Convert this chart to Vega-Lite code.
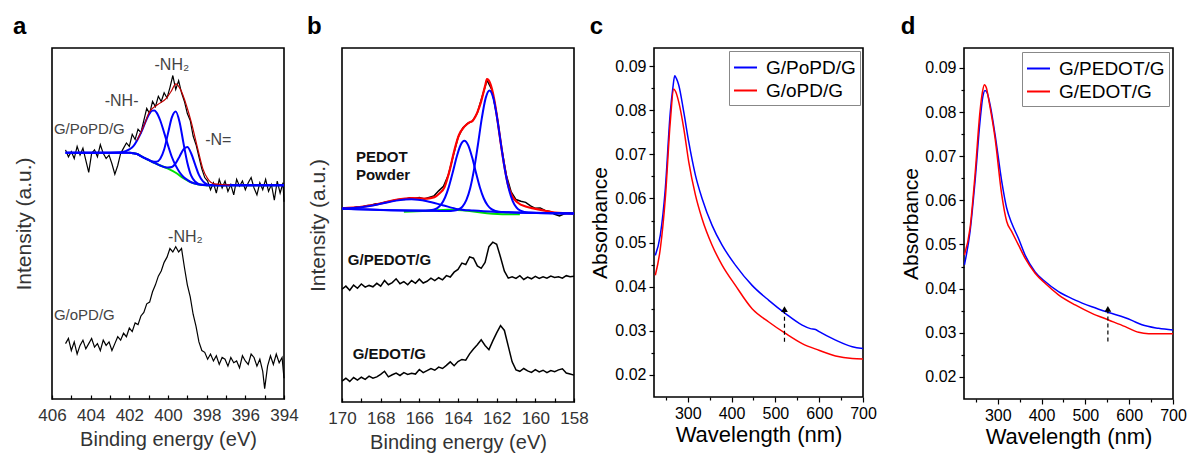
{
"$schema": "https://vega.github.io/schema/vega-lite/v6.json",
"background": "white",
"padding": {"left": 12, "top": 14, "right": 2, "bottom": 2},
"config": {
  "font": "Liberation Sans",
  "view": {"stroke": "#000", "strokeWidth": 1.6},
  "axis": {"grid": false, "domain": false, "labelFont": "Liberation Sans", "titleFont": "Liberation Sans", "titleFontWeight": "normal", "labelOverlap": false, "labelFlush": false},
  "title": {"font": "Liberation Sans"}
},
"resolve": {"scale": {"color": "independent"}, "legend": {"color": "independent"}},
"align": "none",
"datasets": {
  "aRaw": [
    {"s":"PoPD","x":405.3,"y":72},{"s":"PoPD","x":405.15,"y":70},{"s":"PoPD","x":405.0,"y":71.5},{"s":"PoPD","x":404.85,"y":69.5},{"s":"PoPD","x":404.7,"y":73},{"s":"PoPD","x":404.55,"y":70.5},{"s":"PoPD","x":404.4,"y":72.5},{"s":"PoPD","x":404.25,"y":69},{"s":"PoPD","x":404.1,"y":65.5},{"s":"PoPD","x":403.95,"y":71},{"s":"PoPD","x":403.8,"y":72},{"s":"PoPD","x":403.65,"y":70},{"s":"PoPD","x":403.5,"y":73.5},{"s":"PoPD","x":403.35,"y":71},{"s":"PoPD","x":403.2,"y":69.5},{"s":"PoPD","x":403.05,"y":70.5},{"s":"PoPD","x":402.9,"y":68},{"s":"PoPD","x":402.75,"y":65},{"s":"PoPD","x":402.6,"y":67.5},{"s":"PoPD","x":402.45,"y":71},{"s":"PoPD","x":402.3,"y":72.5},{"s":"PoPD","x":402.15,"y":74},{"s":"PoPD","x":402.0,"y":73},{"s":"PoPD","x":401.85,"y":76.5},{"s":"PoPD","x":401.7,"y":75},{"s":"PoPD","x":401.55,"y":78},{"s":"PoPD","x":401.4,"y":77},{"s":"PoPD","x":401.25,"y":80.5},{"s":"PoPD","x":401.1,"y":84},{"s":"PoPD","x":400.95,"y":82.5},{"s":"PoPD","x":400.8,"y":86},{"s":"PoPD","x":400.65,"y":84.5},{"s":"PoPD","x":400.5,"y":87.5},{"s":"PoPD","x":400.35,"y":86},{"s":"PoPD","x":400.2,"y":88.5},{"s":"PoPD","x":400.05,"y":87},{"s":"PoPD","x":399.9,"y":90},{"s":"PoPD","x":399.75,"y":93.5},{"s":"PoPD","x":399.6,"y":89.5},{"s":"PoPD","x":399.45,"y":92},{"s":"PoPD","x":399.3,"y":88.5},{"s":"PoPD","x":399.15,"y":86},{"s":"PoPD","x":399.0,"y":82.5},{"s":"PoPD","x":398.85,"y":80.5},{"s":"PoPD","x":398.7,"y":76},{"s":"PoPD","x":398.55,"y":73.5},{"s":"PoPD","x":398.4,"y":70},{"s":"PoPD","x":398.25,"y":66.5},{"s":"PoPD","x":398.1,"y":64},{"s":"PoPD","x":397.95,"y":63},{"s":"PoPD","x":397.8,"y":60.5},{"s":"PoPD","x":397.65,"y":62.5},{"s":"PoPD","x":397.5,"y":59.5},{"s":"PoPD","x":397.35,"y":63.5},{"s":"PoPD","x":397.2,"y":61},{"s":"PoPD","x":397.05,"y":63},{"s":"PoPD","x":396.9,"y":60},{"s":"PoPD","x":396.75,"y":62},{"s":"PoPD","x":396.6,"y":59},{"s":"PoPD","x":396.45,"y":63.5},{"s":"PoPD","x":396.3,"y":61.5},{"s":"PoPD","x":396.15,"y":63},{"s":"PoPD","x":396.0,"y":60.5},{"s":"PoPD","x":395.85,"y":62.5},{"s":"PoPD","x":395.7,"y":64},{"s":"PoPD","x":395.55,"y":61},{"s":"PoPD","x":395.4,"y":59},{"s":"PoPD","x":395.25,"y":62.5},{"s":"PoPD","x":395.1,"y":60.5},{"s":"PoPD","x":394.95,"y":63.5},{"s":"PoPD","x":394.8,"y":60},{"s":"PoPD","x":394.65,"y":62},{"s":"PoPD","x":394.5,"y":57.5},{"s":"PoPD","x":394.35,"y":63},{"s":"PoPD","x":394.2,"y":59.5},{"s":"PoPD","x":394.05,"y":62.5},{"s":"PoPD","x":394.0,"y":57},
    {"s":"oPD","x":405.3,"y":16},{"s":"oPD","x":405.15,"y":17.5},{"s":"oPD","x":405.0,"y":14},{"s":"oPD","x":404.85,"y":16.5},{"s":"oPD","x":404.7,"y":13},{"s":"oPD","x":404.55,"y":15.5},{"s":"oPD","x":404.4,"y":17},{"s":"oPD","x":404.25,"y":14.5},{"s":"oPD","x":404.1,"y":16},{"s":"oPD","x":403.95,"y":17.5},{"s":"oPD","x":403.8,"y":15},{"s":"oPD","x":403.65,"y":16},{"s":"oPD","x":403.5,"y":14},{"s":"oPD","x":403.35,"y":17},{"s":"oPD","x":403.2,"y":15.5},{"s":"oPD","x":403.05,"y":16.5},{"s":"oPD","x":402.9,"y":14},{"s":"oPD","x":402.75,"y":16},{"s":"oPD","x":402.6,"y":18},{"s":"oPD","x":402.45,"y":17},{"s":"oPD","x":402.3,"y":19},{"s":"oPD","x":402.15,"y":18},{"s":"oPD","x":402.0,"y":20.5},{"s":"oPD","x":401.85,"y":19.5},{"s":"oPD","x":401.7,"y":22},{"s":"oPD","x":401.55,"y":21.5},{"s":"oPD","x":401.4,"y":24},{"s":"oPD","x":401.25,"y":25},{"s":"oPD","x":401.1,"y":27.5},{"s":"oPD","x":400.95,"y":28},{"s":"oPD","x":400.8,"y":31},{"s":"oPD","x":400.65,"y":33},{"s":"oPD","x":400.5,"y":35.5},{"s":"oPD","x":400.35,"y":37},{"s":"oPD","x":400.2,"y":39.5},{"s":"oPD","x":400.05,"y":41},{"s":"oPD","x":399.9,"y":43.5},{"s":"oPD","x":399.75,"y":42.5},{"s":"oPD","x":399.6,"y":44},{"s":"oPD","x":399.45,"y":42.5},{"s":"oPD","x":399.3,"y":43.5},{"s":"oPD","x":399.15,"y":38},{"s":"oPD","x":399.0,"y":33},{"s":"oPD","x":398.85,"y":29.5},{"s":"oPD","x":398.7,"y":24.5},{"s":"oPD","x":398.55,"y":21},{"s":"oPD","x":398.4,"y":16.5},{"s":"oPD","x":398.25,"y":14},{"s":"oPD","x":398.1,"y":13.5},{"s":"oPD","x":397.95,"y":11.5},{"s":"oPD","x":397.8,"y":13},{"s":"oPD","x":397.65,"y":11},{"s":"oPD","x":397.5,"y":12.5},{"s":"oPD","x":397.35,"y":10},{"s":"oPD","x":397.2,"y":12},{"s":"oPD","x":397.05,"y":11.5},{"s":"oPD","x":396.9,"y":9.5},{"s":"oPD","x":396.75,"y":12},{"s":"oPD","x":396.6,"y":10.5},{"s":"oPD","x":396.45,"y":11},{"s":"oPD","x":396.3,"y":9},{"s":"oPD","x":396.15,"y":12.5},{"s":"oPD","x":396.0,"y":11},{"s":"oPD","x":395.85,"y":10},{"s":"oPD","x":395.7,"y":13},{"s":"oPD","x":395.55,"y":12},{"s":"oPD","x":395.4,"y":9.5},{"s":"oPD","x":395.25,"y":11.5},{"s":"oPD","x":395.1,"y":8},{"s":"oPD","x":395.0,"y":3},{"s":"oPD","x":394.85,"y":9.5},{"s":"oPD","x":394.7,"y":12.5},{"s":"oPD","x":394.55,"y":10},{"s":"oPD","x":394.4,"y":13},{"s":"oPD","x":394.25,"y":10.5},{"s":"oPD","x":394.1,"y":12},{"s":"oPD","x":394.0,"y":6}
  ],
  "aFit": [
    {"s":"P1","x":405.3,"y":71.2},{"s":"P1","x":403.0,"y":71.2},{"s":"P1","x":402.4,"y":71.33},{"s":"P1","x":402.0,"y":72.13},{"s":"P1","x":401.8,"y":73.04},{"s":"P1","x":401.6,"y":74.75},{"s":"P1","x":401.4,"y":76.92},{"s":"P1","x":401.2,"y":79.59},{"s":"P1","x":401.0,"y":82.1},{"s":"P1","x":400.8,"y":83.35},{"s":"P1","x":400.7,"y":83.4},{"s":"P1","x":400.6,"y":82.85},{"s":"P1","x":400.4,"y":80.5},{"s":"P1","x":400.2,"y":76.99},{"s":"P1","x":400.0,"y":73.32},{"s":"P1","x":399.8,"y":69.95},{"s":"P1","x":399.6,"y":67.44},{"s":"P1","x":399.4,"y":65.53},{"s":"P1","x":399.2,"y":64.17},{"s":"P1","x":399.0,"y":63.33},{"s":"P1","x":398.8,"y":62.64},{"s":"P1","x":398.6,"y":62.3},{"s":"P1","x":398.4,"y":62.0},{"s":"P1","x":398.0,"y":61.8},{"s":"P1","x":394.0,"y":61.8},
    {"s":"P2","x":405.3,"y":71.2},{"s":"P2","x":402.0,"y":71.2},{"s":"P2","x":401.8,"y":71.0},{"s":"P2","x":401.6,"y":70.8},{"s":"P2","x":401.4,"y":70.2},{"s":"P2","x":401.2,"y":69.6},{"s":"P2","x":401.0,"y":69.12},{"s":"P2","x":400.8,"y":68.62},{"s":"P2","x":400.6,"y":68.56},{"s":"P2","x":400.4,"y":69.43},{"s":"P2","x":400.2,"y":72.09},{"s":"P2","x":400.0,"y":76.77},{"s":"P2","x":399.8,"y":81.41},{"s":"P2","x":399.6,"y":83.1},{"s":"P2","x":399.4,"y":80.01},{"s":"P2","x":399.2,"y":73.97},{"s":"P2","x":399.0,"y":68.29},{"s":"P2","x":398.8,"y":64.53},{"s":"P2","x":398.6,"y":62.86},{"s":"P2","x":398.4,"y":62.12},{"s":"P2","x":398.2,"y":61.92},{"s":"P2","x":398.0,"y":61.8},{"s":"P2","x":394.0,"y":61.8},
    {"s":"P3","x":405.3,"y":71.2},{"s":"P3","x":402.0,"y":71.2},{"s":"P3","x":401.8,"y":71.0},{"s":"P3","x":401.6,"y":70.8},{"s":"P3","x":401.4,"y":70.2},{"s":"P3","x":401.2,"y":69.6},{"s":"P3","x":401.0,"y":69.1},{"s":"P3","x":400.8,"y":68.5},{"s":"P3","x":400.6,"y":68.0},{"s":"P3","x":400.4,"y":67.5},{"s":"P3","x":400.2,"y":67.07},{"s":"P3","x":400.0,"y":66.9},{"s":"P3","x":399.8,"y":67.05},{"s":"P3","x":399.6,"y":68.16},{"s":"P3","x":399.4,"y":70.12},{"s":"P3","x":399.2,"y":72.16},{"s":"P3","x":399.0,"y":72.8},{"s":"P3","x":398.8,"y":70.96},{"s":"P3","x":398.6,"y":67.82},{"s":"P3","x":398.4,"y":64.76},{"s":"P3","x":398.2,"y":62.95},{"s":"P3","x":398.0,"y":62.1},{"s":"P3","x":397.8,"y":61.87},{"s":"P3","x":397.6,"y":61.8},{"s":"P3","x":394.0,"y":61.8},
    {"s":"bg","x":402.0,"y":71.2},{"s":"bg","x":401.6,"y":70.8},{"s":"bg","x":401.2,"y":69.6},{"s":"bg","x":400.8,"y":68.5},{"s":"bg","x":400.4,"y":67.5},{"s":"bg","x":400.0,"y":66.6},{"s":"bg","x":399.6,"y":65.4},{"s":"bg","x":399.2,"y":63.8},{"s":"bg","x":398.8,"y":62.6},{"s":"bg","x":398.4,"y":62.0},{"s":"bg","x":398.0,"y":61.8},{"s":"bg","x":394.2,"y":61.8},
    {"s":"env","x":401.6,"y":74.75},{"s":"env","x":401.2,"y":79.6},{"s":"env","x":400.97,"y":82.9},{"s":"env","x":400.53,"y":85.1},{"s":"env","x":400.1,"y":86.8},{"s":"env","x":399.85,"y":88.8},{"s":"env","x":399.59,"y":91.1},{"s":"env","x":399.33,"y":89.2},{"s":"env","x":399.05,"y":84.9},{"s":"env","x":398.8,"y":80.1},{"s":"env","x":398.46,"y":72.3},{"s":"env","x":398.2,"y":66.6},{"s":"env","x":397.95,"y":63.7},{"s":"env","x":397.6,"y":62.2},{"s":"env","x":397.2,"y":62.0},{"s":"env","x":396.8,"y":61.9}
  ],
  "aTextC": [
    {"x":402.4,"y":86,"t":"-NH-"},{"x":399.8,"y":96.5,"t":"-NH₂"},{"x":397.4,"y":74.8,"t":"-N="},{"x":399.1,"y":46.8,"t":"-NH₂"}
  ],
  "aTextL": [
    {"x":405.9,"y":78,"t":"G/PoPD/G"},{"x":405.9,"y":24.2,"t":"G/oPD/G"}
  ],
  "bRaw": [
    {"s":"PEDOT","x":170,"y":55.3},{"s":"PEDOT","x":169.75,"y":55.6},{"s":"PEDOT","x":169.5,"y":55.5},{"s":"PEDOT","x":169.25,"y":55.9},{"s":"PEDOT","x":169,"y":55.8},{"s":"PEDOT","x":168.75,"y":56.2},{"s":"PEDOT","x":168.5,"y":56.4},{"s":"PEDOT","x":168.25,"y":56.8},{"s":"PEDOT","x":168,"y":56.9},{"s":"PEDOT","x":167.75,"y":57.3},{"s":"PEDOT","x":167.5,"y":57.5},{"s":"PEDOT","x":167.25,"y":57.9},{"s":"PEDOT","x":167,"y":58.1},{"s":"PEDOT","x":166.75,"y":58.0},{"s":"PEDOT","x":166.5,"y":58.5},{"s":"PEDOT","x":166.25,"y":58.3},{"s":"PEDOT","x":166,"y":58.6},{"s":"PEDOT","x":165.75,"y":58.2},{"s":"PEDOT","x":165.5,"y":58.6},{"s":"PEDOT","x":165.25,"y":59.0},{"s":"PEDOT","x":165,"y":60.5},{"s":"PEDOT","x":164.75,"y":61.8},{"s":"PEDOT","x":164.5,"y":65.0},{"s":"PEDOT","x":164.25,"y":70.5},{"s":"PEDOT","x":164,"y":75.8},{"s":"PEDOT","x":163.75,"y":78.5},{"s":"PEDOT","x":163.5,"y":79.8},{"s":"PEDOT","x":163.25,"y":80.5},{"s":"PEDOT","x":163,"y":82.8},{"s":"PEDOT","x":162.75,"y":87.5},{"s":"PEDOT","x":162.5,"y":92.2},{"s":"PEDOT","x":162.25,"y":89.5},{"s":"PEDOT","x":162,"y":82.5},{"s":"PEDOT","x":161.75,"y":72.8},{"s":"PEDOT","x":161.5,"y":65.0},{"s":"PEDOT","x":161.25,"y":60.2},{"s":"PEDOT","x":161,"y":58.0},{"s":"PEDOT","x":160.75,"y":57.5},{"s":"PEDOT","x":160.5,"y":57.2},{"s":"PEDOT","x":160.25,"y":56.2},{"s":"PEDOT","x":160,"y":55.5},{"s":"PEDOT","x":159.75,"y":55.6},{"s":"PEDOT","x":159.5,"y":54.9},{"s":"PEDOT","x":159.25,"y":54.6},{"s":"PEDOT","x":159,"y":53.8},{"s":"PEDOT","x":158.75,"y":53.3},{"s":"PEDOT","x":158.5,"y":53.9},{"s":"PEDOT","x":158.25,"y":54.2},{"s":"PEDOT","x":158,"y":54.0},
    {"s":"GPG","x":170,"y":32.3},{"s":"GPG","x":169.8,"y":33.2},{"s":"GPG","x":169.6,"y":32.0},{"s":"GPG","x":169.4,"y":33.5},{"s":"GPG","x":169.2,"y":32.6},{"s":"GPG","x":169.0,"y":33.8},{"s":"GPG","x":168.8,"y":32.9},{"s":"GPG","x":168.6,"y":33.4},{"s":"GPG","x":168.4,"y":33.0},{"s":"GPG","x":168.2,"y":34.0},{"s":"GPG","x":168.0,"y":33.2},{"s":"GPG","x":167.8,"y":34.8},{"s":"GPG","x":167.6,"y":33.6},{"s":"GPG","x":167.4,"y":34.2},{"s":"GPG","x":167.2,"y":35.3},{"s":"GPG","x":167.0,"y":33.9},{"s":"GPG","x":166.8,"y":34.5},{"s":"GPG","x":166.6,"y":33.6},{"s":"GPG","x":166.4,"y":34.8},{"s":"GPG","x":166.2,"y":34.0},{"s":"GPG","x":166.0,"y":35.2},{"s":"GPG","x":165.8,"y":34.1},{"s":"GPG","x":165.6,"y":34.6},{"s":"GPG","x":165.4,"y":35.5},{"s":"GPG","x":165.2,"y":34.8},{"s":"GPG","x":165.0,"y":35.6},{"s":"GPG","x":164.8,"y":35.0},{"s":"GPG","x":164.6,"y":36.2},{"s":"GPG","x":164.4,"y":35.8},{"s":"GPG","x":164.2,"y":37.2},{"s":"GPG","x":164.0,"y":38.0},{"s":"GPG","x":163.8,"y":39.8},{"s":"GPG","x":163.6,"y":39.4},{"s":"GPG","x":163.4,"y":41.6},{"s":"GPG","x":163.2,"y":41.2},{"s":"GPG","x":163.0,"y":39.0},{"s":"GPG","x":162.8,"y":38.3},{"s":"GPG","x":162.6,"y":40.0},{"s":"GPG","x":162.4,"y":44.5},{"s":"GPG","x":162.2,"y":45.8},{"s":"GPG","x":162.0,"y":45.2},{"s":"GPG","x":161.8,"y":41.5},{"s":"GPG","x":161.6,"y":37.5},{"s":"GPG","x":161.4,"y":35.5},{"s":"GPG","x":161.2,"y":35.9},{"s":"GPG","x":161.0,"y":35.4},{"s":"GPG","x":160.8,"y":36.2},{"s":"GPG","x":160.6,"y":35.1},{"s":"GPG","x":160.4,"y":35.8},{"s":"GPG","x":160.2,"y":35.3},{"s":"GPG","x":160.0,"y":36.0},{"s":"GPG","x":159.8,"y":35.4},{"s":"GPG","x":159.6,"y":35.9},{"s":"GPG","x":159.4,"y":35.5},{"s":"GPG","x":159.2,"y":36.1},{"s":"GPG","x":159.0,"y":35.7},{"s":"GPG","x":158.8,"y":35.9},{"s":"GPG","x":158.6,"y":35.5},{"s":"GPG","x":158.4,"y":36.2},{"s":"GPG","x":158.2,"y":35.9},{"s":"GPG","x":158.0,"y":36.0},
    {"s":"GEG","x":170,"y":6.0},{"s":"GEG","x":169.8,"y":6.8},{"s":"GEG","x":169.6,"y":5.9},{"s":"GEG","x":169.4,"y":7.0},{"s":"GEG","x":169.2,"y":6.3},{"s":"GEG","x":169.0,"y":7.1},{"s":"GEG","x":168.8,"y":6.5},{"s":"GEG","x":168.6,"y":7.4},{"s":"GEG","x":168.4,"y":6.8},{"s":"GEG","x":168.2,"y":7.2},{"s":"GEG","x":168.0,"y":7.9},{"s":"GEG","x":167.8,"y":8.8},{"s":"GEG","x":167.6,"y":7.2},{"s":"GEG","x":167.4,"y":7.8},{"s":"GEG","x":167.2,"y":8.3},{"s":"GEG","x":167.0,"y":7.6},{"s":"GEG","x":166.8,"y":8.4},{"s":"GEG","x":166.6,"y":7.9},{"s":"GEG","x":166.4,"y":8.2},{"s":"GEG","x":166.2,"y":8.0},{"s":"GEG","x":166.0,"y":9.3},{"s":"GEG","x":165.8,"y":8.4},{"s":"GEG","x":165.6,"y":9.0},{"s":"GEG","x":165.4,"y":9.6},{"s":"GEG","x":165.2,"y":9.1},{"s":"GEG","x":165.0,"y":10.0},{"s":"GEG","x":164.8,"y":9.6},{"s":"GEG","x":164.6,"y":10.5},{"s":"GEG","x":164.4,"y":11.5},{"s":"GEG","x":164.2,"y":10.4},{"s":"GEG","x":164.0,"y":11.6},{"s":"GEG","x":163.8,"y":12.2},{"s":"GEG","x":163.6,"y":12.0},{"s":"GEG","x":163.4,"y":13.8},{"s":"GEG","x":163.2,"y":15.2},{"s":"GEG","x":163.0,"y":16.4},{"s":"GEG","x":162.8,"y":17.8},{"s":"GEG","x":162.6,"y":16.2},{"s":"GEG","x":162.4,"y":15.0},{"s":"GEG","x":162.2,"y":17.5},{"s":"GEG","x":162.0,"y":19.8},{"s":"GEG","x":161.8,"y":21.9},{"s":"GEG","x":161.6,"y":20.5},{"s":"GEG","x":161.4,"y":16.0},{"s":"GEG","x":161.2,"y":11.5},{"s":"GEG","x":161.0,"y":9.2},{"s":"GEG","x":160.8,"y":8.8},{"s":"GEG","x":160.6,"y":9.6},{"s":"GEG","x":160.4,"y":8.9},{"s":"GEG","x":160.2,"y":8.5},{"s":"GEG","x":160.0,"y":9.3},{"s":"GEG","x":159.8,"y":8.6},{"s":"GEG","x":159.6,"y":9.1},{"s":"GEG","x":159.4,"y":8.4},{"s":"GEG","x":159.2,"y":9.0},{"s":"GEG","x":159.0,"y":8.7},{"s":"GEG","x":158.8,"y":9.2},{"s":"GEG","x":158.6,"y":9.5},{"s":"GEG","x":158.4,"y":8.3},{"s":"GEG","x":158.2,"y":8.0},{"s":"GEG","x":158.0,"y":7.7}
  ],
  "bFit": [
    {"s":"C1","x":170,"y":55.51},{"s":"C1","x":169,"y":55.83},{"s":"C1","x":168,"y":56.78},{"s":"C1","x":167.2,"y":57.7},{"s":"C1","x":166.4,"y":58.08},{"s":"C1","x":165.6,"y":57.52},{"s":"C1","x":164.8,"y":56.4},{"s":"C1","x":164.0,"y":55.25},{"s":"C1","x":163.2,"y":54.84},{"s":"C1","x":162.0,"y":54.47},{"s":"C1","x":158.0,"y":54.0},
    {"s":"C2","x":170,"y":55.4},{"s":"C2","x":165.67,"y":54.87},{"s":"C2","x":165.47,"y":54.91},{"s":"C2","x":165.27,"y":55.09},{"s":"C2","x":165.07,"y":55.57},{"s":"C2","x":164.87,"y":56.62},{"s":"C2","x":164.67,"y":58.59},{"s":"C2","x":164.47,"y":61.72},{"s":"C2","x":164.27,"y":65.82},{"s":"C2","x":164.07,"y":70.19},{"s":"C2","x":163.87,"y":73.57},{"s":"C2","x":163.67,"y":74.84},{"s":"C2","x":163.47,"y":73.52},{"s":"C2","x":163.27,"y":70.1},{"s":"C2","x":163.07,"y":65.7},{"s":"C2","x":162.87,"y":61.55},{"s":"C2","x":162.67,"y":58.38},{"s":"C2","x":162.47,"y":56.37},{"s":"C2","x":162.27,"y":55.26},{"s":"C2","x":162.07,"y":54.74},{"s":"C2","x":161.87,"y":54.52},{"s":"C2","x":161.67,"y":54.43},{"s":"C2","x":158,"y":54.0},
    {"s":"C3","x":170,"y":55.4},{"s":"C3","x":164.37,"y":54.75},{"s":"C3","x":164.17,"y":54.84},{"s":"C3","x":163.97,"y":55.17},{"s":"C3","x":163.77,"y":56.0},{"s":"C3","x":163.57,"y":57.83},{"s":"C3","x":163.37,"y":61.24},{"s":"C3","x":163.17,"y":66.65},{"s":"C3","x":162.97,"y":73.71},{"s":"C3","x":162.77,"y":81.25},{"s":"C3","x":162.57,"y":87.07},{"s":"C3","x":162.37,"y":89.28},{"s":"C3","x":162.17,"y":87.02},{"s":"C3","x":161.97,"y":81.16},{"s":"C3","x":161.77,"y":73.58},{"s":"C3","x":161.57,"y":66.46},{"s":"C3","x":161.37,"y":61.01},{"s":"C3","x":161.17,"y":57.56},{"s":"C3","x":160.97,"y":55.67},{"s":"C3","x":160.77,"y":54.8},{"s":"C3","x":160.57,"y":54.43},{"s":"C3","x":160.37,"y":54.29},{"s":"C3","x":158,"y":54.0},
    {"s":"bg","x":166.8,"y":54.5},{"s":"bg","x":165.5,"y":54.8},{"s":"bg","x":164.5,"y":55.1},{"s":"bg","x":163.5,"y":54.8},{"s":"bg","x":162.5,"y":54.1},{"s":"bg","x":161.5,"y":53.8},{"s":"bg","x":160.8,"y":53.8},
    {"s":"env","x":170,"y":55.5},{"s":"env","x":169,"y":55.9},{"s":"env","x":168,"y":56.9},{"s":"env","x":167.2,"y":57.9},{"s":"env","x":166.4,"y":58.4},{"s":"env","x":165.6,"y":58.3},{"s":"env","x":165.22,"y":58.7},{"s":"env","x":164.95,"y":59.8},{"s":"env","x":164.7,"y":61.5},{"s":"env","x":164.45,"y":66},{"s":"env","x":164.18,"y":72.3},{"s":"env","x":163.95,"y":76.5},{"s":"env","x":163.67,"y":78.9},{"s":"env","x":163.45,"y":80},{"s":"env","x":163.24,"y":80.6},{"s":"env","x":163.0,"y":83},{"s":"env","x":162.81,"y":86},{"s":"env","x":162.6,"y":90.5},{"s":"env","x":162.5,"y":92.5},{"s":"env","x":162.35,"y":91.5},{"s":"env","x":162.12,"y":86.5},{"s":"env","x":161.95,"y":80.5},{"s":"env","x":161.77,"y":73.5},{"s":"env","x":161.6,"y":67.5},{"s":"env","x":161.43,"y":62.6},{"s":"env","x":161.2,"y":59},{"s":"env","x":160.9,"y":57.1},{"s":"env","x":160.5,"y":56},{"s":"env","x":160.05,"y":55.4},{"s":"env","x":159.5,"y":54.8},{"s":"env","x":159.0,"y":54.3},{"s":"env","x":158.5,"y":54.1},{"s":"env","x":158.0,"y":54}
  ],
  "bText": [
    {"x":169.28,"y":70.2,"t":"PEDOT"},{"x":169.28,"y":65.1,"t":"Powder"},{"x":169.7,"y":40.6,"t":"G/PEDOT/G"},{"x":169.45,"y":13.8,"t":"G/EDOT/G"}
  ],
  "cData": [
    {"s":"G/PoPD/G","x":226,"y":0.0471},{"s":"G/PoPD/G","x":237.4,"y":0.0517},{"s":"G/PoPD/G","x":248.8,"y":0.0622},{"s":"G/PoPD/G","x":260.2,"y":0.0796},{"s":"G/PoPD/G","x":266,"y":0.085},{"s":"G/PoPD/G","x":270.3,"y":0.0878},{"s":"G/PoPD/G","x":274,"y":0.0872},{"s":"G/PoPD/G","x":279.4,"y":0.0857},{"s":"G/PoPD/G","x":290.9,"y":0.0796},{"s":"G/PoPD/G","x":302.3,"y":0.0728},{"s":"G/PoPD/G","x":317.5,"y":0.0653},{"s":"G/PoPD/G","x":332.7,"y":0.06},{"s":"G/PoPD/G","x":355.6,"y":0.0539},{"s":"G/PoPD/G","x":378.4,"y":0.0494},{"s":"G/PoPD/G","x":408.8,"y":0.0449},{"s":"G/PoPD/G","x":446.9,"y":0.0403},{"s":"G/PoPD/G","x":485,"y":0.0369},{"s":"G/PoPD/G","x":523.1,"y":0.0339},{"s":"G/PoPD/G","x":561.2,"y":0.0313},{"s":"G/PoPD/G","x":580,"y":0.0305},{"s":"G/PoPD/G","x":591.7,"y":0.0303},{"s":"G/PoPD/G","x":600,"y":0.0298},{"s":"G/PoPD/G","x":637.4,"y":0.0279},{"s":"G/PoPD/G","x":675.5,"y":0.0264},{"s":"G/PoPD/G","x":700,"y":0.026},
    {"s":"G/oPD/G","x":226,"y":0.0426},{"s":"G/oPD/G","x":237.4,"y":0.0486},{"s":"G/oPD/G","x":248.8,"y":0.06},{"s":"G/oPD/G","x":260.2,"y":0.0774},{"s":"G/oPD/G","x":268,"y":0.0848},{"s":"G/oPD/G","x":272,"y":0.0843},{"s":"G/oPD/G","x":279.4,"y":0.0819},{"s":"G/oPD/G","x":290.9,"y":0.0759},{"s":"G/oPD/G","x":302.3,"y":0.0683},{"s":"G/oPD/G","x":317.5,"y":0.0608},{"s":"G/oPD/G","x":332.7,"y":0.0554},{"s":"G/oPD/G","x":355.6,"y":0.0494},{"s":"G/oPD/G","x":378.4,"y":0.0449},{"s":"G/oPD/G","x":408.8,"y":0.0403},{"s":"G/oPD/G","x":446.9,"y":0.035},{"s":"G/oPD/G","x":485,"y":0.032},{"s":"G/oPD/G","x":523.1,"y":0.0294},{"s":"G/oPD/G","x":561.2,"y":0.0271},{"s":"G/oPD/G","x":599.3,"y":0.0256},{"s":"G/oPD/G","x":637.4,"y":0.0243},{"s":"G/oPD/G","x":675.5,"y":0.0237},{"s":"G/oPD/G","x":700,"y":0.0236}
  ],
  "dData": [
    {"s":"G/PEDOT/G","x":224,"y":0.0454},{"s":"G/PEDOT/G","x":236.8,"y":0.0529},{"s":"G/PEDOT/G","x":248.2,"y":0.0643},{"s":"G/PEDOT/G","x":259.6,"y":0.0779},{"s":"G/PEDOT/G","x":266,"y":0.0835},{"s":"G/PEDOT/G","x":271,"y":0.0849},{"s":"G/PEDOT/G","x":276,"y":0.0843},{"s":"G/PEDOT/G","x":282.4,"y":0.0817},{"s":"G/PEDOT/G","x":293.9,"y":0.0749},{"s":"G/PEDOT/G","x":309.1,"y":0.0643},{"s":"G/PEDOT/G","x":320.5,"y":0.0582},{"s":"G/PEDOT/G","x":332,"y":0.0548},{"s":"G/PEDOT/G","x":347.2,"y":0.0514},{"s":"G/PEDOT/G","x":362.4,"y":0.0476},{"s":"G/PEDOT/G","x":385.3,"y":0.0438},{"s":"G/PEDOT/G","x":408.1,"y":0.0416},{"s":"G/PEDOT/G","x":438.7,"y":0.0393},{"s":"G/PEDOT/G","x":476.8,"y":0.0374},{"s":"G/PEDOT/G","x":514.9,"y":0.0359},{"s":"G/PEDOT/G","x":553,"y":0.0346},{"s":"G/PEDOT/G","x":591,"y":0.0334},{"s":"G/PEDOT/G","x":606,"y":0.0328},{"s":"G/PEDOT/G","x":629.1,"y":0.0318},{"s":"G/PEDOT/G","x":667.2,"y":0.031},{"s":"G/PEDOT/G","x":700,"y":0.0306},
    {"s":"G/EDOT/G","x":224,"y":0.0476},{"s":"G/EDOT/G","x":236.8,"y":0.0537},{"s":"G/EDOT/G","x":248.2,"y":0.0658},{"s":"G/EDOT/G","x":259.6,"y":0.0802},{"s":"G/EDOT/G","x":265,"y":0.0845},{"s":"G/EDOT/G","x":269.5,"y":0.0862},{"s":"G/EDOT/G","x":274,"y":0.0855},{"s":"G/EDOT/G","x":280.1,"y":0.0824},{"s":"G/EDOT/G","x":293.9,"y":0.0741},{"s":"G/EDOT/G","x":309.1,"y":0.0613},{"s":"G/EDOT/G","x":320.5,"y":0.0552},{"s":"G/EDOT/G","x":332,"y":0.0529},{"s":"G/EDOT/G","x":347.2,"y":0.0499},{"s":"G/EDOT/G","x":362.4,"y":0.0469},{"s":"G/EDOT/G","x":385.3,"y":0.0435},{"s":"G/EDOT/G","x":408.1,"y":0.0412},{"s":"G/EDOT/G","x":438.7,"y":0.0386},{"s":"G/EDOT/G","x":476.8,"y":0.0363},{"s":"G/EDOT/G","x":514.9,"y":0.0344},{"s":"G/EDOT/G","x":553,"y":0.0329},{"s":"G/EDOT/G","x":591,"y":0.0314},{"s":"G/EDOT/G","x":621.5,"y":0.0301},{"s":"G/EDOT/G","x":644.4,"y":0.0298},{"s":"G/EDOT/G","x":700,"y":0.0298}
  ]
},
"spacing": 22,
"hconcat": [
  {
    "spacing": 0,
    "align": "none",
    "resolve": {"scale": {"color": "independent"}, "legend": {"color": "independent"}},
    "hconcat": [
      {
        "spacing": 7,
        "align": "none",
        "hconcat": [
          {
            "width": 232, "height": 351,
            "title": {"text": "a", "anchor": "start", "frame": "bounds", "fontSize": 24, "fontWeight": "bold", "color": "#000", "offset": 9},
            "encoding": {
              "x": {"field": "x", "type": "quantitative", "scale": {"domain": [394, 406], "reverse": true, "nice": false, "zero": false},
                "axis": {"values": [394,395,396,397,398,399,400,401,402,403,404,405,406], "labelExpr": "datum.value % 2 === 0 ? datum.label : ''", "tickSize": -4, "tickColor": "#000", "tickWidth": 1.2, "labelFontSize": 17, "labelColor": "#333", "labelPadding": 12, "title": "Binding energy (eV)", "titleFontSize": 20, "titleColor": "#333", "titlePadding": 6}},
              "y": {"field": "y", "type": "quantitative", "scale": {"domain": [0, 101.45], "nice": false, "zero": false},
                "axis": {"ticks": false, "labels": false, "title": "Intensity (a.u.)", "titleFontSize": 21, "titleColor": "#333", "titlePadding": 18}}
            },
            "layer": [
              {"data": {"name": "aRaw"}, "mark": {"type": "line", "color": "#000", "strokeWidth": 1.2}, "encoding": {"detail": {"field": "s", "type": "nominal"}}},
              {"data": {"name": "aFit"}, "transform": [{"filter": "datum.s === 'bg'"}], "mark": {"type": "line", "color": "#00e000", "strokeWidth": 2, "interpolate": "monotone"}, "encoding": {}},
              {"data": {"name": "aFit"}, "transform": [{"filter": "datum.s === 'P1' || datum.s === 'P2' || datum.s === 'P3'"}], "mark": {"type": "line", "color": "#0000ff", "strokeWidth": 2, "interpolate": "monotone"}, "encoding": {"detail": {"field": "s", "type": "nominal"}}},
              {"data": {"name": "aFit"}, "transform": [{"filter": "datum.s === 'env'"}], "mark": {"type": "line", "color": "#c00000", "strokeWidth": 1.2, "interpolate": "monotone"}, "encoding": {}},
              {"data": {"name": "aTextC"}, "mark": {"type": "text", "align": "center", "baseline": "middle", "fontSize": 16, "color": "#444"}, "encoding": {"text": {"field": "t", "type": "nominal"}}},
              {"data": {"name": "aTextL"}, "mark": {"type": "text", "align": "left", "baseline": "middle", "fontSize": 15, "color": "#444"}, "encoding": {"text": {"field": "t", "type": "nominal"}}}
            ]
          },
          {
            "width": 232, "height": 354,
            "title": {"text": "b", "anchor": "start", "frame": "bounds", "fontSize": 24, "fontWeight": "bold", "color": "#000", "offset": 9},
            "encoding": {
              "x": {"field": "x", "type": "quantitative", "scale": {"domain": [158, 170], "reverse": true, "nice": false, "zero": false},
                "axis": {"values": [158,159,160,161,162,163,164,165,166,167,168,169,170], "labelExpr": "datum.value % 2 === 0 ? datum.label : ''", "tickSize": -4, "tickColor": "#000", "tickWidth": 1.2, "labelFontSize": 17, "labelColor": "#333", "labelPadding": 12, "title": "Binding energy (eV)", "titleFontSize": 20, "titleColor": "#333", "titlePadding": 6}},
              "y": {"field": "y", "type": "quantitative", "scale": {"domain": [0, 101.43], "nice": false, "zero": false},
                "axis": {"ticks": false, "labels": false, "title": "Intensity (a.u.)", "titleFontSize": 21, "titleColor": "#333", "titlePadding": 14}}
            },
            "layer": [
              {"data": {"name": "bRaw"}, "mark": {"type": "line", "color": "#000", "strokeWidth": 1.5}, "encoding": {"detail": {"field": "s", "type": "nominal"}}},
              {"data": {"name": "bFit"}, "transform": [{"filter": "datum.s === 'bg'"}], "mark": {"type": "line", "color": "#00e000", "strokeWidth": 2, "interpolate": "monotone"}, "encoding": {}},
              {"data": {"name": "bFit"}, "transform": [{"filter": "datum.s === 'env'"}], "mark": {"type": "line", "color": "#ff0000", "strokeWidth": 2.2, "interpolate": "monotone"}, "encoding": {}},
              {"data": {"name": "bFit"}, "transform": [{"filter": "datum.s === 'C1' || datum.s === 'C2' || datum.s === 'C3'"}], "mark": {"type": "line", "color": "#0000ff", "strokeWidth": 2, "interpolate": "monotone"}, "encoding": {"detail": {"field": "s", "type": "nominal"}}},
              {"data": {"name": "bText"}, "mark": {"type": "text", "align": "left", "baseline": "middle", "fontSize": 15, "fontWeight": "bold", "color": "#111"}, "encoding": {"text": {"field": "t", "type": "nominal"}}}
            ]
          }
        ]
      },
      {
        "width": 209, "height": 349,
        "title": {"text": "c", "anchor": "start", "frame": "bounds", "fontSize": 24, "fontWeight": "bold", "color": "#000", "offset": 9},
        "encoding": {
          "x": {"field": "x", "type": "quantitative", "scale": {"domain": [223, 700], "nice": false, "zero": false},
            "axis": {"values": [250,300,350,400,450,500,550,600,650,700], "labelExpr": "datum.value % 100 === 0 ? datum.label : ''", "tickSize": {"condition": {"test": "datum.value % 100 === 0", "value": 5}, "value": 3}, "tickColor": "#000", "tickWidth": 1.2, "labelFontSize": 16, "labelColor": "#000", "labelPadding": 3, "title": "Wavelength (nm)", "titleFontSize": 22, "titleColor": "#000", "titlePadding": 3}},
          "y": {"field": "y", "type": "quantitative", "scale": {"domain": [0.015, 0.0941], "nice": false, "zero": false},
            "axis": {"values": [0.02,0.025,0.03,0.035,0.04,0.045,0.05,0.055,0.06,0.065,0.07,0.075,0.08,0.085,0.09], "format": ".2f", "labelExpr": "round(datum.value*1000) % 10 === 0 ? datum.label : ''", "tickSize": {"condition": {"test": "round(datum.value*1000) % 10 === 0", "value": 5}, "value": 3}, "tickColor": "#000", "tickWidth": 1.2, "labelFontSize": 16, "labelColor": "#000", "labelPadding": 3, "title": "Absorbance", "titleFontSize": 21, "titleColor": "#000", "titlePadding": 4}}
        },
        "layer": [
          {"data": {"name": "cData"}, "mark": {"type": "line", "strokeWidth": 1.5, "interpolate": "monotone"},
            "encoding": {"color": {"field": "s", "type": "nominal", "scale": {"domain": ["G/PoPD/G", "G/oPD/G"], "range": ["#0000ff", "#ff0000"]},
              "legend": {"orient": "top-right", "offset": 3, "title": null, "symbolType": "stroke", "symbolSize": 529, "symbolStrokeWidth": 2, "labelFontSize": 19, "labelColor": "#000", "strokeColor": "#888", "fillColor": "#fff", "padding": 4, "rowPadding": 0, "labelOffset": 8}}}},
          {"data": {"values": [{"x": 520.8, "y": 0.0275, "y2": 0.0349}]}, "mark": {"type": "rule", "strokeDash": [4, 3], "color": "#000", "strokeWidth": 1.2}, "encoding": {"y2": {"field": "y2"}}},
          {"data": {"values": [{"x": 520.8, "y": 0.0349}]}, "mark": {"type": "point", "shape": "triangle-up", "filled": true, "color": "#000", "size": 45, "opacity": 1}, "encoding": {}}
        ]
      }
    ]
  },
  {
    "width": 209, "height": 351,
    "title": {"text": "d", "anchor": "start", "frame": "bounds", "fontSize": 24, "fontWeight": "bold", "color": "#000", "offset": 9},
    "encoding": {
      "x": {"field": "x", "type": "quantitative", "scale": {"domain": [223, 700], "nice": false, "zero": false},
        "axis": {"values": [250,300,350,400,450,500,550,600,650,700], "labelExpr": "datum.value % 100 === 0 ? datum.label : ''", "tickSize": {"condition": {"test": "datum.value % 100 === 0", "value": 5}, "value": 3}, "tickColor": "#000", "tickWidth": 1.2, "labelFontSize": 16, "labelColor": "#000", "labelPadding": 3, "title": "Wavelength (nm)", "titleFontSize": 22, "titleColor": "#000", "titlePadding": 3}},
      "y": {"field": "y", "type": "quantitative", "scale": {"domain": [0.015, 0.0945], "nice": false, "zero": false},
        "axis": {"values": [0.02,0.025,0.03,0.035,0.04,0.045,0.05,0.055,0.06,0.065,0.07,0.075,0.08,0.085,0.09], "format": ".2f", "labelExpr": "round(datum.value*1000) % 10 === 0 ? datum.label : ''", "tickSize": {"condition": {"test": "round(datum.value*1000) % 10 === 0", "value": 5}, "value": 3}, "tickColor": "#000", "tickWidth": 1.2, "labelFontSize": 16, "labelColor": "#000", "labelPadding": 3, "title": "Absorbance", "titleFontSize": 21, "titleColor": "#000", "titlePadding": 3}}
    },
    "layer": [
      {"data": {"name": "dData"}, "mark": {"type": "line", "strokeWidth": 1.5, "interpolate": "monotone"},
        "encoding": {"color": {"field": "s", "type": "nominal", "scale": {"domain": ["G/PEDOT/G", "G/EDOT/G"], "range": ["#0000ff", "#ff0000"]},
          "legend": {"orient": "top-right", "offset": 4, "title": null, "symbolType": "stroke", "symbolSize": 529, "symbolStrokeWidth": 2, "labelFontSize": 19, "labelColor": "#000", "strokeColor": "#888", "fillColor": "#fff", "padding": 4, "rowPadding": 0, "labelOffset": 8}}}},
      {"data": {"values": [{"x": 551.4, "y": 0.028, "y2": 0.0354}]}, "mark": {"type": "rule", "strokeDash": [4, 3], "color": "#000", "strokeWidth": 1.2}, "encoding": {"y2": {"field": "y2"}}},
      {"data": {"values": [{"x": 551.4, "y": 0.0354}]}, "mark": {"type": "point", "shape": "triangle-up", "filled": true, "color": "#000", "size": 45, "opacity": 1}, "encoding": {}}
    ]
  }
]
}
